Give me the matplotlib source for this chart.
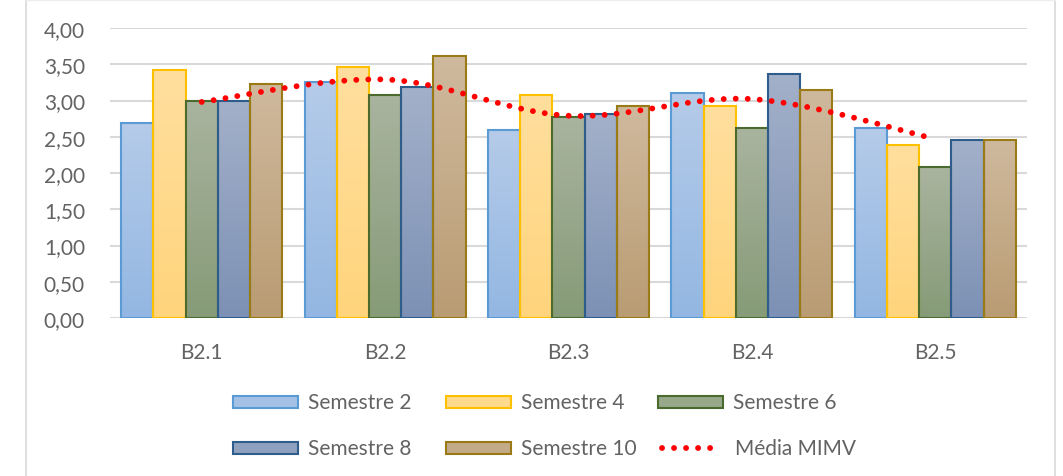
import numpy as np
import matplotlib
matplotlib.use('Agg')
import matplotlib.pyplot as plt
from matplotlib.lines import Line2D
from matplotlib.patches import Rectangle

# ---------------- data ----------------
categories = ['B2.1', 'B2.2', 'B2.3', 'B2.4', 'B2.5']
series_names = ['Semestre 2', 'Semestre 4', 'Semestre 6', 'Semestre 8', 'Semestre 10']
sem2 = [2.69, 3.25, 2.60, 3.10, 2.62]
sem4 = [3.42, 3.46, 3.08, 2.92, 2.38]
sem6 = [3.00, 3.08, 2.77, 2.62, 2.08]
sem8 = [3.00, 3.18, 2.82, 3.37, 2.45]
sem10 = [3.23, 3.61, 2.92, 3.15, 2.46]
media_name = 'Média MIMV'
media_mimv = [2.98, 3.29, 2.79, 3.02, 2.47]
yticks = [0.0, 0.5, 1.0, 1.5, 2.0, 2.5, 3.0, 3.5, 4.0]
ytick_labels = ['0,00', '0,50', '1,00', '1,50', '2,00', '2,50', '3,00', '3,50', '4,00']

# ---------------- style ----------------
styles = [  # (top colour, bottom colour, edge colour)
    ('#B5CBE9', '#93B7E2', '#5B9BD5'),
    ('#FFDF9E', '#FFD47C', '#FFC000'),
    ('#A9B49F', '#869B77', '#4B6A2E'),
    ('#A3B0C9', '#7C91B5', '#2E5D8C'),
    ('#CFB99D', '#B99C73', '#9A7A14'),
]
text_col = '#636363'
grid_col = '#D9D9D9'
FONT = ['Lato', 'DejaVu Sans']
plt.rcParams['font.family'] = FONT
DOT_LW = 4.2
DOTS = (0, (0.01, 2.05))

W, H = 1063, 477
fig = plt.figure(figsize=(W / 100, H / 100), dpi=100)

def fx(x):
    return x / W

def fy(y):
    return 1 - y / H

left, right, top, bottom = 110, 1027, 29, 319
ax = fig.add_axes([fx(left), fy(bottom), fx(right) - fx(left), fy(top) - fy(bottom)])

series = [sem2, sem4, sem6, sem8, sem10]
x = np.arange(len(categories))
bw = 0.1756

def hex2rgb(h):
    h = h.lstrip('#')
    return np.array([int(h[i:i + 2], 16) / 255 for i in (0, 2, 4)])

for i, (vals, (ctop, cbot, cedge)) in enumerate(zip(series, styles)):
    xs = x + (i - 2) * bw
    bars = ax.bar(xs, vals, width=bw, facecolor='none', edgecolor=cedge,
                  linewidth=1.5, zorder=3, label=series_names[i])
    t = hex2rgb(ctop)
    b = hex2rgb(cbot)
    for rect in bars:
        x0 = rect.get_x()
        w = rect.get_width()
        h = rect.get_height()
        n = 64
        frac = np.linspace(0, 1, n)[:, None]
        grad = (t[None, :] * (1 - frac) + b[None, :] * frac)[:, None, :]
        ax.imshow(grad, extent=(x0, x0 + w, 0, h), origin='upper',
                  aspect='auto', zorder=2, interpolation='bilinear')

# smoothed line (Excel-like bezier smoothing through the points)
px = x.astype(float)
py = np.array(media_mimv, dtype=float)
pts = np.column_stack([px, py])
curve = []
for k in range(len(pts) - 1):
    p0 = pts[k - 1] if k > 0 else pts[k]
    p1 = pts[k]
    p2 = pts[k + 1]
    p3 = pts[k + 2] if k + 2 < len(pts) else pts[k + 1]
    c1 = p1 + (p2 - p0) / 6
    c2 = p2 - (p3 - p1) / 6
    tt = np.linspace(0, 1, 60)[:, None]
    seg = ((1 - tt) ** 3) * p1 + 3 * ((1 - tt) ** 2) * tt * c1 + 3 * (1 - tt) * tt ** 2 * c2 + tt ** 3 * p2
    curve.append(seg if k == 0 else seg[1:])
curve = np.vstack(curve)
ax.plot(curve[:, 0], curve[:, 1], color='#FF0000', linewidth=DOT_LW,
        linestyle=DOTS, dash_capstyle='round', zorder=4)

ax.set_xlim(-0.5, len(categories) - 0.5)
ax.set_ylim(0, 4.0)
ax.set_yticks(yticks)
ax.set_yticklabels(ytick_labels)
ax.set_xticks(x)
ax.set_xticklabels(categories)
ax.yaxis.grid(True, color=grid_col, linewidth=1.5, zorder=0)
ax.set_axisbelow(True)
for s in ax.spines.values():
    s.set_visible(False)
ax.tick_params(axis='both', length=0, labelsize=15, colors=text_col)
ax.tick_params(axis='y', pad=18)
ax.tick_params(axis='x', pad=17)

# ---------------- legend (manual, Excel-like layout) ----------------
legend_pos = [(233, 403), (446, 403), (658, 403), (233, 449), (446, 449)]
for (lx, ly), name, (ctop, cbot, cedge) in zip(legend_pos, series_names, styles):
    mid = (hex2rgb(ctop) + hex2rgb(cbot)) / 2
    fig.add_artist(Rectangle((fx(lx), fy(ly + 6)), fx(65), 12 / H,
                             transform=fig.transFigure, facecolor=mid,
                             edgecolor=cedge, linewidth=1.5))
    fig.text(fx(lx + 75), fy(ly), name, fontsize=15, color=text_col,
             va='center', ha='left')
fig.add_artist(Line2D([fx(662), fx(722)], [fy(449), fy(449)], transform=fig.transFigure,
                      color='#FF0000', linewidth=DOT_LW, linestyle=DOTS,
                      dash_capstyle='round'))
fig.text(fx(735), fy(449), media_name, fontsize=15, color=text_col, va='center', ha='left')

# chart frame
frame_col = '#D9D9D9'
fig.add_artist(Line2D([fx(26), fx(26)], [fy(1), 0], transform=fig.transFigure, color=frame_col, linewidth=1.2))
fig.add_artist(Line2D([fx(1055), fx(1055)], [fy(1), 0], transform=fig.transFigure, color=frame_col, linewidth=1.2))
fig.add_artist(Line2D([fx(26), fx(1055)], [fy(1), fy(1)], transform=fig.transFigure, color='#EEEEEE', linewidth=1.0))

fig.savefig('out.png', dpi=100)
